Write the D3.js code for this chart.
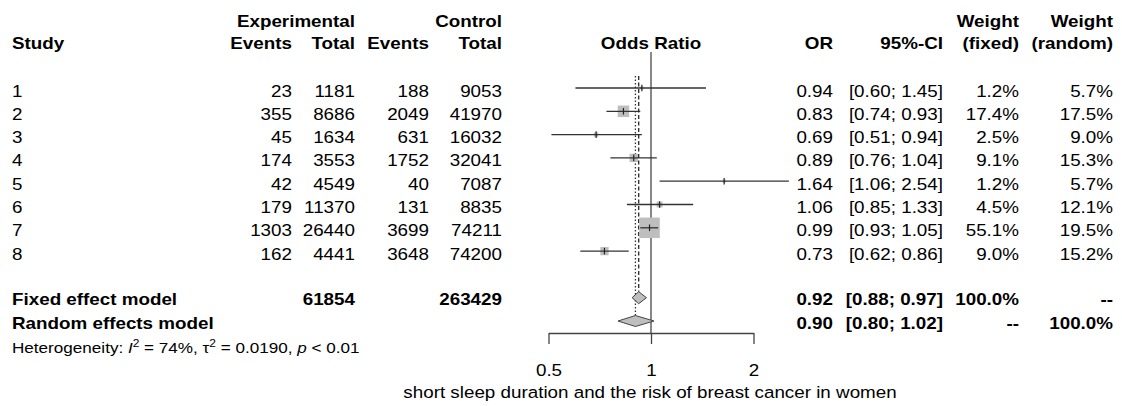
<!DOCTYPE html>
<html>
<head>
<meta charset="utf-8">
<script src="https://cdn.jsdelivr.net/npm/d3@7"></script>
<style>
  html, body { margin: 0; padding: 0; background: #fff; }
  svg { display: block; font-family: "Liberation Sans", Arial, Helvetica, sans-serif; }
</style>
</head>
<body>
<svg id="chart" width="1122" height="406"></svg>
<script>
// ---- Study data ----
const studies      = ["1", "2", "3", "4", "5", "6", "7", "8"];
const expEvents    = [23, 355, 45, 174, 42, 179, 1303, 162];
const expTotal     = [1181, 8686, 1634, 3553, 4549, 11370, 26440, 4441];
const ctrlEvents   = [188, 2049, 631, 1752, 40, 131, 3699, 3648];
const ctrlTotal    = [9053, 41970, 16032, 32041, 7087, 8835, 74211, 74200];
const oddsRatio    = [0.94, 0.83, 0.69, 0.89, 1.64, 1.06, 0.99, 0.73];
const ciLower      = [0.60, 0.74, 0.51, 0.76, 1.06, 0.85, 0.93, 0.62];
const ciUpper      = [1.45, 0.93, 0.94, 1.04, 2.54, 1.33, 1.05, 0.86];
const weightFixed  = [1.2, 17.4, 2.5, 9.1, 1.2, 4.5, 55.1, 9.0];
const weightRandom = [5.7, 17.5, 9.0, 15.3, 5.7, 12.1, 19.5, 15.2];

// ---- Pooled estimates ----
const modelNames   = ["Fixed effect model", "Random effects model"];
const modelOR      = [0.92, 0.90];
const modelLower   = [0.88, 0.80];
const modelUpper   = [0.97, 1.02];
const modelWFixed  = ["100.0%", "--"];
const modelWRandom = ["--", "100.0%"];
const totalExp     = 61854;
const totalCtrl    = 263429;

// ---- Axis ----
const axisTicks = [0.5, 1, 2];
const axisTitle = "short sleep duration and the risk of breast cancer in women";

// ---- Layout ----
const SX = 1.14;          // horizontal text stretch
const FS = 16.5;          // main font size
const rowY = i => 88 + i * 23.3;
const TXT = 8.5;          // baseline offset from row centre
const col = { study: 12, expEv: 292, expTot: 355, ctrlEv: 429, ctrlTot: 502,
              or: 833, ci: 943, wf: 1019, wr: 1113 };
const axisY = 333;

const svg = d3.select("#chart");
const x = d3.scaleLog().domain([0.5, 2]).range([548.5, 753.5]);
const boxSize = d3.scaleSqrt().domain([0, d3.max(weightFixed)]).range([0, 20.5]);

const f2 = d3.format(".2f");
const f1 = d3.format(".1f");

function label(px, py, str, opts = {}) {
  return svg.append("text")
    .attr("transform", `translate(${px},${py}) scale(${SX},1)`)
    .attr("text-anchor", opts.anchor || "start")
    .attr("font-size", opts.size || FS)
    .attr("font-weight", opts.bold ? "bold" : null)
    .attr("fill", "#000")
    .text(str);
}

// ---- Column headers ----
label(col.expTot, 27, "Experimental", { anchor: "end", bold: true });
label(col.ctrlTot, 27, "Control", { anchor: "end", bold: true });
label(col.wf, 27, "Weight", { anchor: "end", bold: true });
label(col.wr, 27, "Weight", { anchor: "end", bold: true });

label(col.study, 49, "Study", { bold: true });
label(col.expEv, 49, "Events", { anchor: "end", bold: true });
label(col.expTot, 49, "Total", { anchor: "end", bold: true });
label(col.ctrlEv, 49, "Events", { anchor: "end", bold: true });
label(col.ctrlTot, 49, "Total", { anchor: "end", bold: true });
label(x(1), 49, "Odds Ratio", { anchor: "middle", bold: true });
label(col.or, 49, "OR", { anchor: "end", bold: true });
label(col.ci, 49, "95%-CI", { anchor: "end", bold: true });
label(col.wf, 49, "(fixed)", { anchor: "end", bold: true });
label(col.wr, 49, "(random)", { anchor: "end", bold: true });

// ---- Study rows text ----
studies.forEach((s, i) => {
  const y = rowY(i) + TXT;
  label(col.study, y, s);
  label(col.expEv, y, expEvents[i], { anchor: "end" });
  label(col.expTot, y, expTotal[i], { anchor: "end" });
  label(col.ctrlEv, y, ctrlEvents[i], { anchor: "end" });
  label(col.ctrlTot, y, ctrlTotal[i], { anchor: "end" });
  label(col.or, y, f2(oddsRatio[i]), { anchor: "end" });
  label(col.ci, y, `[${f2(ciLower[i])}; ${f2(ciUpper[i])}]`, { anchor: "end" });
  label(col.wf, y, f1(weightFixed[i]) + "%", { anchor: "end" });
  label(col.wr, y, f1(weightRandom[i]) + "%", { anchor: "end" });
});

// ---- Pooled rows text ----
const modelRow = [9, 10];
modelNames.forEach((m, k) => {
  const y = rowY(modelRow[k]) + TXT - 1;
  label(col.study, y, m, { bold: true });
  if (k === 0) {
    label(col.expTot, y, totalExp, { anchor: "end", bold: true });
    label(col.ctrlTot, y, totalCtrl, { anchor: "end", bold: true });
  }
  label(col.or, y, f2(modelOR[k]), { anchor: "end", bold: true });
  label(col.ci, y, `[${f2(modelLower[k])}; ${f2(modelUpper[k])}]`, { anchor: "end", bold: true });
  label(col.wf, y, modelWFixed[k], { anchor: "end", bold: true });
  label(col.wr, y, modelWRandom[k], { anchor: "end", bold: true });
});

// ---- Heterogeneity line ----
const het = svg.append("text")
  .attr("transform", `translate(${col.study},353) scale(${SX},1)`)
  .attr("font-size", 15).attr("fill", "#000");
het.append("tspan").text("Heterogeneity: ");
het.append("tspan").attr("font-style", "italic").text("I");
het.append("tspan").attr("font-size", 10.5).attr("dy", -6.5).text("2");
het.append("tspan").attr("dy", 6.5).text(" = 74%, ");
het.append("tspan").text("\u03C4");
het.append("tspan").attr("font-size", 10.5).attr("dy", -6.5).text("2");
het.append("tspan").attr("dy", 6.5).text(" = 0.0190, ");
het.append("tspan").attr("font-style", "italic").text("p");
het.append("tspan").text(" < 0.01");

// ---- Forest plot ----
const plot = svg.append("g");
const topY = rowY(0) - 12;

// pooled reference lines: fixed (dashed), random (dotted)
plot.append("line")
  .attr("x1", x(modelOR[1])).attr("x2", x(modelOR[1]))
  .attr("y1", topY).attr("y2", rowY(10) - 5)
  .attr("stroke", "#333").attr("stroke-width", 1.3).attr("stroke-dasharray", "1.5,2");
plot.append("line")
  .attr("x1", x(modelOR[0])).attr("x2", x(modelOR[0]))
  .attr("y1", topY).attr("y2", rowY(9) - 6)
  .attr("stroke", "#333").attr("stroke-width", 1.4).attr("stroke-dasharray", "4,2.5");

// line of no effect
plot.append("line")
  .attr("x1", x(1)).attr("x2", x(1))
  .attr("y1", 52).attr("y2", axisY)
  .attr("stroke", "#555").attr("stroke-width", 1.4);

// weight squares
plot.selectAll("rect.box").data(studies).join("rect")
  .attr("class", "box")
  .attr("x", (d, i) => x(oddsRatio[i]) - boxSize(weightFixed[i]) / 2)
  .attr("y", (d, i) => rowY(i) - boxSize(weightFixed[i]) / 2)
  .attr("width", (d, i) => boxSize(weightFixed[i]))
  .attr("height", (d, i) => boxSize(weightFixed[i]))
  .attr("fill", "#bebebe");

// confidence intervals
plot.selectAll("line.ci").data(studies).join("line")
  .attr("class", "ci")
  .attr("x1", (d, i) => x(ciLower[i])).attr("x2", (d, i) => x(ciUpper[i]))
  .attr("y1", (d, i) => rowY(i)).attr("y2", (d, i) => rowY(i))
  .attr("stroke", "#333").attr("stroke-width", 1.3);

// point estimate marks
plot.selectAll("line.pt").data(studies).join("line")
  .attr("class", "pt")
  .attr("x1", (d, i) => x(oddsRatio[i])).attr("x2", (d, i) => x(oddsRatio[i]))
  .attr("y1", (d, i) => rowY(i) - 3.3).attr("y2", (d, i) => rowY(i) + 3.3)
  .attr("stroke", "#222").attr("stroke-width", 1.2);

// pooled diamonds
const diamondH = [6, 5.5];
modelOR.forEach((m, k) => {
  const cy = rowY(modelRow[k]);
  const pts = [[x(modelLower[k]), cy], [x(m), cy - diamondH[k]],
               [x(modelUpper[k]), cy], [x(m), cy + diamondH[k]]];
  plot.append("polygon")
    .attr("points", pts.map(p => p.join(",")).join(" "))
    .attr("fill", "#bebebe").attr("stroke", "#444").attr("stroke-width", 1);
});

// ---- Axis ----
const axis = svg.append("g")
  .attr("transform", `translate(0,${axisY})`)
  .call(d3.axisBottom(x).tickValues(axisTicks).tickSize(11).tickSizeOuter(0)
    .tickFormat(d => String(d)));
axis.select(".domain").attr("stroke", "#444").attr("stroke-width", 1.3);
axis.selectAll(".tick line").attr("stroke", "#444").attr("stroke-width", 1.3);
axis.attr("font-size", null).attr("font-family", null);
axis.selectAll(".tick text")
  .attr("y", 376 - axisY).attr("dy", 0)
  .attr("font-size", FS).attr("fill", "#000")
  .attr("transform", `scale(${SX},1)`);

label(650, 398, axisTitle, { anchor: "middle" });
</script>
</body>
</html>
